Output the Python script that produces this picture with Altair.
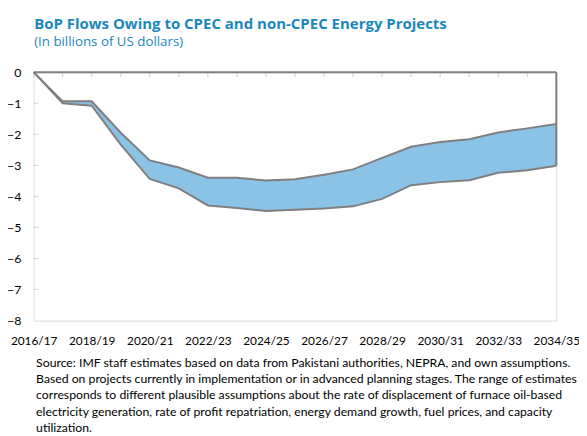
import altair as alt
import pandas as pd

years = ["2016/17", "2017/18", "2018/19", "2019/20", "2020/21", "2021/22", "2022/23",
         "2023/24", "2024/25", "2025/26", "2026/27", "2027/28", "2028/29", "2029/30",
         "2030/31", "2031/32", "2032/33", "2033/34", "2034/35"]
upper = [0, -0.94, -0.94, -1.95, -2.84, -3.07, -3.40, -3.40, -3.49, -3.45, -3.30,
         -3.13, -2.76, -2.40, -2.25, -2.16, -1.94, -1.81, -1.67]
lower = [0, -1.00, -1.08, -2.33, -3.44, -3.74, -4.29, -4.37, -4.47, -4.43, -4.39,
         -4.32, -4.08, -3.64, -3.54, -3.48, -3.24, -3.16, -3.01]
y_labels = [0, -1, -2, -3, -4, -5, -6, -7, -8]
y_inner_ticks = [-1, -2, -3, -4, -5, -6, -7]
x_labels = years[::2]
title_text = "BoP Flows Owing to CPEC and non-CPEC Energy Projects"
subtitle_text = "(In billions of US dollars)"
footnote = [
    "Source:  IMF staff estimates based on data from Pakistani authorities, NEPRA,  and own assumptions.",
    "Based on projects currently in implementation or in advanced planning stages. The range of estimates",
    "corresponds to different plausible assumptions about the rate of displacement of furnace oil-based",
    "electricity generation, rate of profit repatriation, energy demand growth, fuel prices, and capacity",
    "utilization.",
]

df = pd.DataFrame({"year": years, "upper": upper, "lower": lower})
df["zero"] = 0.0
ticks_df = pd.DataFrame({"v": y_inner_ticks})

BLUE = "#1a87c0"
LINE = "#7f7f7f"
LIGHT = "#d0d0d0"
LABEL_FONT = "Lato"

xscale = alt.Scale(type="point", padding=0, domain=years)
xaxis = alt.Axis(values=x_labels, labelAngle=0, ticks=False, domain=False, grid=False,
                 labelPadding=15, labelFont=LABEL_FONT, labelFontSize=12, labelColor="#000000",
                 title=footnote, titleFont=LABEL_FONT, titleFontSize=12.4, titleFontWeight="normal",
                 titleColor="#000000", titleAnchor="start", titleAlign="left",
                 titleBaseline="alphabetic", titleX=2, titleY=46, titleLineHeight=16.6)
yscale = alt.Scale(domain=[-8, 0], nice=False, zero=False)
yaxis = alt.Axis(values=y_labels, ticks=False, domain=False, grid=False, labelPadding=13,
                 labelFont=LABEL_FONT, labelFontSize=12.5, labelColor="#000000", title=None)

x = alt.X("year:O", scale=xscale, axis=xaxis)

area = alt.Chart(df).mark_area(color="#8bc3e6", opacity=1).encode(
    x=x, y=alt.Y("upper:Q", scale=yscale, axis=yaxis), y2="lower:Q")

top_ticks = alt.Chart(df).mark_rule(color=LIGHT, strokeWidth=1).encode(
    x=x, y=alt.value(0), y2=alt.value(5))

left_ticks = alt.Chart(ticks_df).mark_rule(color=LIGHT, strokeWidth=1).encode(
    y=alt.Y("v:Q", scale=yscale, axis=yaxis), x=alt.value(0), x2=alt.value(5))

lines = alt.Chart(df).transform_fold(["upper", "lower"], as_=["series", "value"]).mark_line(
    color=LINE, strokeWidth=2).encode(
    x=x, y=alt.Y("value:Q", scale=yscale, axis=yaxis), detail="series:N")

zero_line = alt.Chart(df).mark_line(color=LINE, strokeWidth=2).encode(
    x=x, y=alt.Y("zero:Q", scale=yscale, axis=yaxis))

right_edge = alt.Chart(df.tail(1)).mark_rule(color=LINE, strokeWidth=2).encode(
    x=x, y=alt.Y("zero:Q", scale=yscale, axis=yaxis), y2="lower:Q")

chart = alt.layer(area, top_ticks, left_ticks, lines, zero_line, right_edge).properties(
    width=530, height=252,
    autosize=alt.AutoSizeParams(type="none"),
    padding={"left": 26, "top": 62, "right": 23, "bottom": 122},
    title=alt.TitleParams(text=title_text, subtitle=subtitle_text, anchor="start",
                          font="Open Sans", fontSize=15.2, fontWeight="bold", color=BLUE,
                          subtitleFont="Open Sans", subtitleFontSize=13.5, subtitleColor=BLUE,
                          subtitlePadding=3, offset=18, dx=28),
).configure_view(stroke=LIGHT, strokeWidth=1.5).configure(background="white")

chart.save("out.html", embed_options={"renderer": "svg", "actions": False})
